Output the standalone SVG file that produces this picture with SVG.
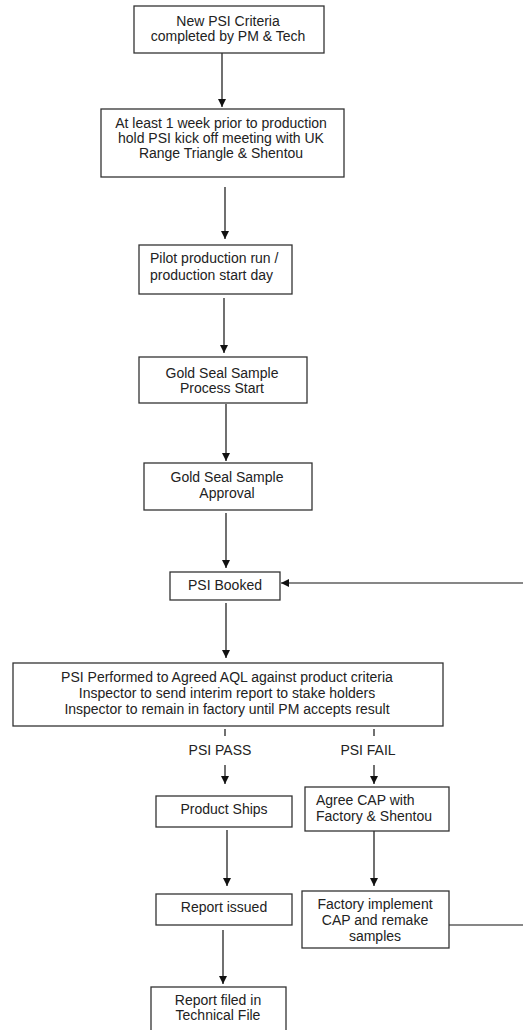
<svg xmlns="http://www.w3.org/2000/svg" width="523" height="1030" viewBox="0 0 523 1030">
<defs>
<marker id="ah" viewBox="0 0 10 10" refX="10" refY="5" markerWidth="8" markerHeight="8" markerUnits="userSpaceOnUse" orient="auto">
<path d="M0,0 L10,5 L0,10 z" fill="#111"/>
</marker>
<style>
.box{fill:#fff;stroke:#333;stroke-width:1.3}
.t{font-family:"Liberation Sans",Arial,sans-serif;font-size:14px;fill:#222;text-anchor:middle}
.l{text-anchor:start}
.c{stroke:#111;stroke-width:1.2;fill:none}
.a{marker-end:url(#ah)}
</style>
</defs>
<rect width="523" height="1030" fill="#fff"/>
<g id="connectors">
<line class="c a" x1="222" y1="53" x2="222" y2="107"/>
<line class="c a" x1="225" y1="187" x2="225" y2="239"/>
<line class="c a" x1="224" y1="298" x2="224" y2="353"/>
<line class="c a" x1="226" y1="404" x2="226" y2="461"/>
<line class="c a" x1="226" y1="513" x2="226" y2="568"/>
<line class="c a" x1="226" y1="603" x2="226" y2="658"/>
<line class="c" x1="225" y1="729" x2="225" y2="736"/>
<line class="c" x1="374" y1="729" x2="374" y2="736"/>
<line class="c a" x1="225" y1="765" x2="225" y2="784"/>
<line class="c a" x1="374" y1="765" x2="374" y2="784"/>
<line class="c a" x1="227" y1="830" x2="227" y2="886"/>
<line class="c a" x1="374" y1="831" x2="374" y2="886"/>
<line class="c a" x1="223" y1="930" x2="223" y2="984"/>
<line class="c" x1="449" y1="925" x2="523" y2="925"/>
<line class="c a" x1="523" y1="583" x2="281" y2="583"/>
</g>
<g id="n1"><rect class="box" x="134" y="6" width="190" height="47"/>
<text class="t" x="228" y="26">New PSI Criteria</text><text class="t" x="228" y="41">completed by PM &amp; Tech</text></g>
<g id="n2"><rect class="box" x="101" y="109" width="243" height="68"/>
<text class="t" x="221" y="128">At least 1 week prior to production</text><text class="t" x="221" y="143">hold PSI kick off meeting with UK</text><text class="t" x="221" y="158">Range Triangle &amp; Shentou</text></g>
<g id="n3"><rect class="box" x="139" y="245" width="153" height="49"/>
<text class="t l" x="150" y="263">Pilot production run /</text><text class="t l" x="150" y="280">production start day</text></g>
<g id="n4"><rect class="box" x="139" y="357" width="168" height="46"/>
<text class="t" x="222" y="378">Gold Seal Sample</text><text class="t" x="222" y="393">Process Start</text></g>
<g id="n5"><rect class="box" x="144" y="463" width="168" height="47"/>
<text class="t" x="227" y="482">Gold Seal Sample</text><text class="t" x="227" y="498">Approval</text></g>
<g id="n6"><rect class="box" x="170" y="572" width="110" height="28"/>
<text class="t" x="225" y="590">PSI Booked</text></g>
<g id="n7"><rect class="box" x="13" y="663" width="430" height="63"/>
<text class="t" x="227" y="682">PSI Performed to Agreed AQL against product criteria</text><text class="t" x="227" y="698">Inspector to send interim report to stake holders</text><text class="t" x="227" y="714">Inspector to remain in factory until PM accepts result</text></g>
<g id="labels"><text class="t" x="220" y="755">PSI PASS</text><text class="t" x="368" y="755">PSI FAIL</text></g>
<g id="n8"><rect class="box" x="156" y="796" width="136" height="31"/>
<text class="t" x="224" y="814">Product Ships</text></g>
<g id="n9"><rect class="box" x="305" y="787" width="144" height="44"/>
<text class="t l" x="316" y="805">Agree CAP with</text><text class="t l" x="316" y="821">Factory &amp; Shentou</text></g>
<g id="n10"><rect class="box" x="156" y="894" width="136" height="31"/>
<text class="t" x="224" y="912">Report issued</text></g>
<g id="n11"><rect class="box" x="302" y="891" width="147" height="57"/>
<text class="t" x="375" y="909">Factory implement</text><text class="t" x="375" y="925">CAP and remake</text><text class="t" x="375" y="941">samples</text></g>
<g id="n12"><rect class="box" x="151" y="987" width="135" height="55"/>
<text class="t" x="218" y="1005">Report filed in</text><text class="t" x="218" y="1020">Technical File</text></g>
</svg>
